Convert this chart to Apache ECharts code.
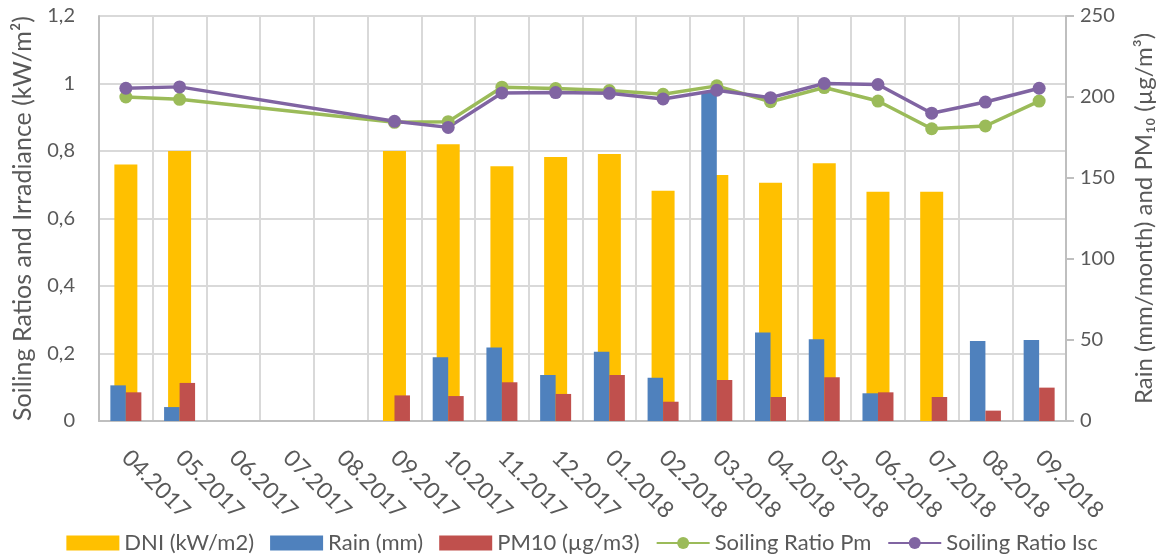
<!DOCTYPE html>
<html>
<head>
<meta charset="utf-8">
<script src="https://cdn.jsdelivr.net/npm/echarts@6/dist/echarts.min.js"></script>
<style>
    html, body { margin: 0; padding: 0; background: #fff; }
    #main { width: 1164px; height: 555px; }
</style>
</head>
<body>
<div id="main"></div>
<script>
var months = ['04.2017', '05.2017', '06.2017', '07.2017', '08.2017', '09.2017', '10.2017', '11.2017', '12.2017',
    '01.2018', '02.2018', '03.2018', '04.2018', '05.2018', '06.2018', '07.2018', '08.2018', '09.2018'];

// 左轴 (kW/m2 和 soiling ratio)
var dni = [0.76, 0.80, null, null, null, 0.80, 0.82, 0.755, 0.782, 0.791, 0.682, 0.729, 0.706, 0.764, 0.679, 0.679, null, null];
var ratioPm = [0.960, 0.953, null, null, null, 0.885, 0.887, 0.989, 0.985, 0.979, 0.968, 0.993, 0.946, 0.988, 0.948, 0.866, 0.874, 0.948];
var ratioIsc = [0.986, 0.990, null, null, null, 0.888, 0.870, 0.972, 0.973, 0.971, 0.954, 0.980, 0.958, 1.000, 0.997, 0.912, 0.945, 0.986];

// 右轴 (mm 和 µg/m3)
var rain = [22.0, 8.6, null, null, null, null, 39.3, 45.3, 28.4, 42.8, 26.7, 203, 54.7, 50.4, 17.1, null, 49.4, 50.0];
var pm10 = [17.7, 23.5, null, null, null, 15.8, 15.4, 23.9, 16.7, 28.4, 11.9, 25.3, 14.8, 27.0, 17.7, 14.8, 6.4, 20.6];

var textColor = '#595959';
var fontName = 'Lato';

var myChart = echarts.init(document.getElementById('main'));

var option = {
    animation: false,
    textStyle: {
        fontFamily: fontName,
        color: textColor
    },
    grid: {
        left: 99,
        right: 93,
        top: 16,
        bottom: 134
    },
    legend: {
        top: 527,
        left: 'center',
        itemWidth: 53,
        itemHeight: 15,
        itemGap: 16,
        textStyle: {
            fontFamily: fontName,
            fontSize: 22,
            color: textColor
        },
        data: [
            {name: 'DNI (kW/m2)', icon: 'rect'},
            {name: 'Rain (mm)', icon: 'rect'},
            {name: 'PM10 (µg/m3)', icon: 'rect'},
            'Soiling Ratio Pm',
            'Soiling Ratio Isc'
        ]
    },
    xAxis: [
        {
            type: 'category',
            data: months,
            axisLine: {lineStyle: {color: '#BFBFBF', width: 2}},
            axisTick: {show: false},
            splitLine: {show: true, interval: 0, lineStyle: {color: '#D9D9D9', width: 2}},
            axisLabel: {
                interval: 0,
                rotate: -45,
                margin: 33,
                fontSize: 23,
                fontFamily: fontName,
                color: textColor
            }
        },
        {
            // 第二个类目轴, 让雨量和PM10的柱子和DNI重叠
            type: 'category',
            data: months,
            show: false
        }
    ],
    yAxis: [
        {
            type: 'value',
            min: 0,
            max: 1.2,
            interval: 0.2,
            name: 'Soiling Ratios and Irradiance (kW/m²)',
            nameLocation: 'middle',
            nameRotate: 90,
            nameGap: 64,
            nameTextStyle: {fontSize: 25, fontFamily: fontName, color: textColor},
            axisLine: {show: true, lineStyle: {color: '#BFBFBF', width: 2}},
            axisTick: {show: false},
            splitLine: {show: true, lineStyle: {color: '#D9D9D9', width: 2}},
            axisLabel: {
                margin: 24,
                fontSize: 20,
                color: textColor,
                formatter: function (v) {
                    return String(+v.toFixed(1)).replace('.', ',');
                }
            }
        },
        {
            type: 'value',
            min: 0,
            max: 250,
            interval: 50,
            position: 'right',
            name: 'Rain (mm/month) and PM₁₀ (µg/m³)',
            nameLocation: 'middle',
            nameRotate: 90,
            nameGap: 66,
            nameTextStyle: {fontSize: 24, fontFamily: fontName, color: textColor},
            axisLine: {show: true, lineStyle: {color: '#BFBFBF', width: 2}},
            axisTick: {show: true, length: 8, lineStyle: {color: '#BFBFBF', width: 2}},
            splitLine: {show: false},
            axisLabel: {
                margin: 14,
                fontSize: 20,
                color: textColor
            }
        }
    ],
    series: [
        {
            name: 'DNI (kW/m2)',
            type: 'bar',
            xAxisIndex: 0,
            yAxisIndex: 0,
            barWidth: 23,
            itemStyle: {color: '#FFC000'},
            data: dni
        },
        {
            name: 'Rain (mm)',
            type: 'bar',
            xAxisIndex: 1,
            yAxisIndex: 1,
            barWidth: 15.5,
            barGap: '0%',
            itemStyle: {color: '#4F81BD'},
            data: rain
        },
        {
            name: 'PM10 (µg/m3)',
            type: 'bar',
            xAxisIndex: 1,
            yAxisIndex: 1,
            barWidth: 15.5,
            barGap: '0%',
            itemStyle: {color: '#C0504D'},
            data: pm10
        },
        {
            name: 'Soiling Ratio Pm',
            type: 'line',
            xAxisIndex: 0,
            yAxisIndex: 0,
            connectNulls: true,
            symbol: 'circle',
            symbolSize: 13,
            lineStyle: {width: 3.5, color: '#9BBB59'},
            itemStyle: {color: '#9BBB59'},
            data: ratioPm
        },
        {
            name: 'Soiling Ratio Isc',
            type: 'line',
            xAxisIndex: 0,
            yAxisIndex: 0,
            connectNulls: true,
            symbol: 'circle',
            symbolSize: 13,
            lineStyle: {width: 3.5, color: '#8064A2'},
            itemStyle: {color: '#8064A2'},
            data: ratioIsc
        }
    ]
};

myChart.setOption(option, true);
</script>
</body>
</html>
